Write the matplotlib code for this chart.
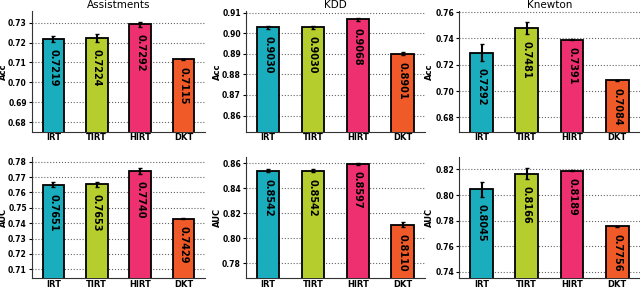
import matplotlib
matplotlib.use("Agg")
import matplotlib.pyplot as plt

# Data
models = ["IRT", "TIRT", "HIRT", "DKT"]
colors = ["#19adbd", "#b6cd2e", "#ee2f70", "#f05a28"]
datasets = ["Assistments", "KDD", "Knewton"]

acc_assist = [0.7219, 0.7224, 0.7292, 0.7115]
acc_assist_err = [0.0016, 0.0020, 0.0012, 0.0003]
acc_kdd = [0.9030, 0.9030, 0.9068, 0.8901]
acc_kdd_err = [0.0008, 0.0007, 0.0008, 0.0008]
acc_knewton = [0.7292, 0.7481, 0.7391, 0.7084]
acc_knewton_err = [0.0065, 0.0045, 0.0002, 0.0004]

auc_assist = [0.7651, 0.7653, 0.7740, 0.7429]
auc_assist_err = [0.0017, 0.0017, 0.0017, 0.0004]
auc_kdd = [0.8542, 0.8542, 0.8597, 0.8110]
auc_kdd_err = [0.0011, 0.0010, 0.0006, 0.0020]
auc_knewton = [0.8045, 0.8166, 0.8189, 0.7756]
auc_knewton_err = [0.0060, 0.0045, 0.0003, 0.0004]

acc_ylims = [(0.675, 0.736), (0.852, 0.911), (0.669, 0.761)]
auc_ylims = [(0.704, 0.783), (0.768, 0.865), (0.735, 0.8295)]
acc_ticks = [[0.68, 0.69, 0.70, 0.71, 0.72, 0.73],
             [0.86, 0.87, 0.88, 0.89, 0.90, 0.91],
             [0.68, 0.70, 0.72, 0.74, 0.76]]
auc_ticks = [[0.71, 0.72, 0.73, 0.74, 0.75, 0.76, 0.77, 0.78],
             [0.78, 0.80, 0.82, 0.84, 0.86],
             [0.74, 0.76, 0.78, 0.80, 0.82]]

rows = [
    ("Acc", [acc_assist, acc_kdd, acc_knewton],
     [acc_assist_err, acc_kdd_err, acc_knewton_err], acc_ylims, acc_ticks),
    ("AUC", [auc_assist, auc_kdd, auc_knewton],
     [auc_assist_err, auc_kdd_err, auc_knewton_err], auc_ylims, auc_ticks),
]

fig = plt.figure(figsize=(6.4, 2.9), dpi=100)

col_left = [0.0495, 0.384, 0.717]
col_width = [0.271, 0.280, 0.283]
row_bottom = [0.545, 0.040]
row_height = 0.418

for r, (metric, values, errors, ylims, ticks) in enumerate(rows):
    for c in range(3):
        ax = fig.add_axes([col_left[c], row_bottom[r], col_width[c], row_height])
        x = range(len(models))
        ax.bar(x, values[c], width=0.5, color=colors, edgecolor="black",
               linewidth=1.3, zorder=3)
        ax.errorbar(x, values[c], yerr=errors[c], fmt="none", ecolor="black",
                    elinewidth=1.5, capsize=1.5, capthick=1.0, zorder=4)
        for i, v in enumerate(values[c]):
            ax.annotate(f"{v:.4f}", (i, v - errors[c][i]), xytext=(0, -5),
                        textcoords="offset points", rotation=270,
                        ha="center", va="top", fontsize=7,
                        fontweight="bold", zorder=5)
        ax.set_xlim(-0.5, 3.5)
        ax.set_ylim(*ylims[c])
        ax.set_yticks(ticks[c])
        ax.set_yticklabels([f"{t:.2f}" for t in ticks[c]], fontsize=5.5,
                           fontweight="bold")
        ax.set_xticks(list(x))
        ax.set_xticklabels(models, fontsize=6, fontweight="bold")
        ax.tick_params(axis="x", length=0, pad=1)
        ax.tick_params(axis="y", length=2, pad=1.5)
        ax.grid(axis="y", linestyle=":", color="#666666", linewidth=0.8,
                zorder=0)
        ax.spines["top"].set_visible(False)
        ax.spines["right"].set_visible(False)
        ax.spines["left"].set_color("#333333")
        ax.spines["bottom"].set_color("#333333")
        ax.set_ylabel(metric, fontsize=6, fontweight="bold")
        ax.yaxis.set_label_coords(-0.135, 0.5)
        if r == 0:
            ax.set_title(datasets[c], fontsize=7.5, pad=2)

fig.savefig("out.png", dpi=100)
